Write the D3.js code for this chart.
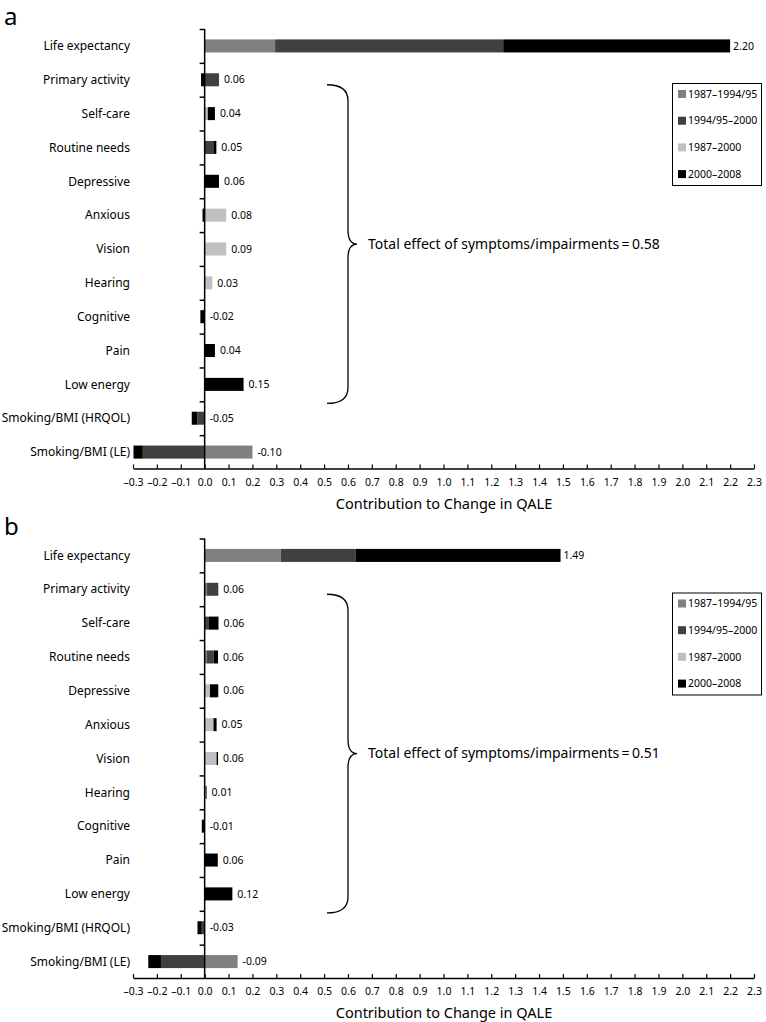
<!DOCTYPE html>
<html><head><meta charset="utf-8">
<script src="https://cdn.jsdelivr.net/npm/d3@7"></script>
<style>body{margin:0;background:#fff}svg{display:block}text{font-family:"Noto Sans",sans-serif;fill:#000}</style>
</head><body>
<script>
const categories = ["Life expectancy","Primary activity","Self-care","Routine needs","Depressive","Anxious","Vision","Hearing","Cognitive","Pain","Low energy","Smoking/BMI (HRQOL)","Smoking/BMI (LE)"];
const seriesKeys = ["p1","p3","p2","p4"];
const legendLabels = ["1987\u20131994/95","1994/95\u20132000","1987\u20132000","2000\u20132008"];
const legendKeys = ["p1","p2","p3","p4"];
const seriesColors = {p1:"#808080", p2:"#404040", p3:"#c0c0c0", p4:"#000000"};
const xTicks = [-0.3,-0.2,-0.1,0.0,0.1,0.2,0.3,0.4,0.5,0.6,0.7,0.8,0.9,1.0,1.1,1.2,1.3,1.4,1.5,1.6,1.7,1.8,1.9,2.0,2.1,2.2,2.3];

// Panel a
const a_p1 = [0.295,0,0,0,0,0,0,0,0,0,0,0,0.200];
const a_p2 = [0.955,0.060,0,0.039,0,0,0,0,0,0,0,-0.031,-0.259];
const a_p3 = [0,0,0.013,0,0,0.090,0.090,0.032,0,0,0,0,0];
const a_p4 = [0.950,-0.015,0.030,0.010,0.060,-0.009,0,0,-0.018,0.043,0.163,-0.023,-0.039];
const a_labels = ["2.20","0.06","0.04","0.05","0.06","0.08","0.09","0.03","-0.02","0.04","0.15","-0.05","-0.10"];
const a_total = "Total effect of symptoms/impairments\u2009=\u20090.58";

// Panel b
const b_p1 = [0.319,0.010,0,0.010,0,0,0,0,0,0,0,0,0.138];
const b_p2 = [0.314,0.047,0.018,0.028,0,0,0,0,0,0,0,-0.012,-0.183];
const b_p3 = [0,0,0,0,0.022,0.037,0.050,0.004,0,0,0,0,0];
const b_p4 = [0.857,0,0.040,0.018,0.035,0.013,0.006,0.004,-0.012,0.055,0.116,-0.018,-0.053];
const b_labels = ["1.49","0.06","0.06","0.06","0.06","0.05","0.06","0.01","-0.01","0.06","0.12","-0.03","-0.09"];
const b_total = "Total effect of symptoms/impairments\u2009=\u20090.51";

const W = 766, H = 1022;
const svg = d3.select("body").append("svg").attr("width", W).attr("height", H);
const x = d3.scaleLinear().domain([-0.3, 2.3]).range([133, 754]);

function panel(letter, p1, p2, p3, p4, labels, totalText, dy) {
  const rows = categories.map((c, i) => ({cat: c, p1: p1[i], p2: p2[i], p3: p3[i], p4: p4[i], label: labels[i]}));
  const y = d3.scaleBand().domain(categories).range([29 + dy, 469 + dy]).paddingInner(0.615).paddingOuter(0.3075);
  const g = svg.append("g");

  g.append("text").attr("x", 4).attr("y", 25 + dy).attr("font-size", 24).text(letter);

  const stack = d3.stack().keys(seriesKeys).offset(d3.stackOffsetDiverging)(rows);
  g.append("g").selectAll("g").data(stack).join("g")
    .attr("fill", d => seriesColors[d.key])
    .selectAll("rect").data(d => d).join("rect")
    .attr("x", d => x(Math.min(d[0], d[1])))
    .attr("width", d => Math.abs(x(d[1]) - x(d[0])))
    .attr("y", d => y(d.data.cat))
    .attr("height", y.bandwidth());

  // value labels
  g.append("g").selectAll("text").data(rows).join("text")
    .attr("x", d => {
      const pos = [d.p1, d.p2, d.p3, d.p4].filter(v => v > 0).reduce((s, v) => s + v, 0);
      return x(pos) + (d.cat === "Life expectancy" ? 3 : 5);
    })
    .attr("y", d => y(d.cat) + y.bandwidth() / 2)
    .attr("dy", "0.35em").attr("font-size", 10.5).text(d => d.label);

  // category labels
  g.append("g").selectAll("text").data(categories).join("text")
    .attr("x", 130).attr("y", d => y(d) + y.bandwidth() / 2).attr("dy", "0.35em")
    .attr("text-anchor", "end").attr("font-size", 12).text(d => d);

  // y axis
  const x0 = x(0);
  const step = y.step();
  const top = y.range()[0], bottom = y.range()[1];
  g.append("line").attr("x1", x0).attr("x2", x0).attr("y1", top).attr("y2", bottom).attr("stroke", "#000").attr("stroke-width", 1.5);
  g.append("g").selectAll("line").data(d3.range(categories.length)).join("line")
    .attr("x1", x0 - 5).attr("x2", x0).attr("y1", i => top + i * step + 0.5).attr("y2", i => top + i * step + 0.5)
    .attr("stroke", "#000").attr("stroke-width", 1.5);

  // x axis
  const axisY = bottom - 0.5;
  const ax = g.append("g").attr("transform", `translate(0,${axisY})`)
    .call(d3.axisBottom(x).tickValues(xTicks).tickSizeInner(-4).tickSizeOuter(0).tickPadding(10)
      .tickFormat(d => d3.format(".1f")(d).replace("-", "\u2013").replace("\u2212", "\u2013")));
  ax.select(".domain").attr("stroke-width", 1.5);
  ax.selectAll(".tick line").attr("stroke-width", 1.2);
  ax.selectAll("text").attr("font-size", 10.5).attr("font-family", "Noto Sans").attr("fill", "#000");
  g.append("text").attr("x", 444).attr("y", axisY + 40).attr("text-anchor", "middle").attr("font-size", 14.5)
    .text("Contribution to Change in QALE");

  // brace
  const bt = y("Primary activity") + y.bandwidth() / 2 + 5;
  const bb = y("Low energy") + y.bandwidth() / 2 + 19;
  const bm = (bt + bb) / 2;
  const bx = 348;
  g.append("path").attr("fill", "none").attr("stroke", "#000").attr("stroke-width", 1.3)
    .attr("d", `M${bx - 21},${bt} Q${bx},${bt} ${bx},${bt + 16} L${bx},${bm - 14} Q${bx},${bm} ${bx + 9},${bm} Q${bx},${bm} ${bx},${bm + 14} L${bx},${bb - 16} Q${bx},${bb} ${bx - 21},${bb}`);
  g.append("text").attr("x", bx + 20).attr("y", bm).attr("dy", "0.35em").attr("font-size", 14).text(totalText);

  // legend
  const lg = g.append("g");
  lg.append("rect").attr("x", 672.5).attr("y", 83.5 + dy).attr("width", 89).attr("height", 102)
    .attr("fill", "#fff").attr("stroke", "#000").attr("stroke-width", 1);
  const items = lg.selectAll("g").data(legendKeys).join("g")
    .attr("transform", (d, i) => `translate(678,${94 + dy + i * 26.7})`);
  items.append("rect").attr("x", 0).attr("y", -4).attr("width", 8).attr("height", 8).attr("fill", d => seriesColors[d]);
  items.append("text").attr("x", 10).attr("y", 0).attr("dy", "0.35em").attr("font-size", 10.5).text((d, i) => legendLabels[i]);
}

panel("a", a_p1, a_p2, a_p3, a_p4, a_labels, a_total, 0);
panel("b", b_p1, b_p2, b_p3, b_p4, b_labels, b_total, 509.5);
</script>
</body></html>
